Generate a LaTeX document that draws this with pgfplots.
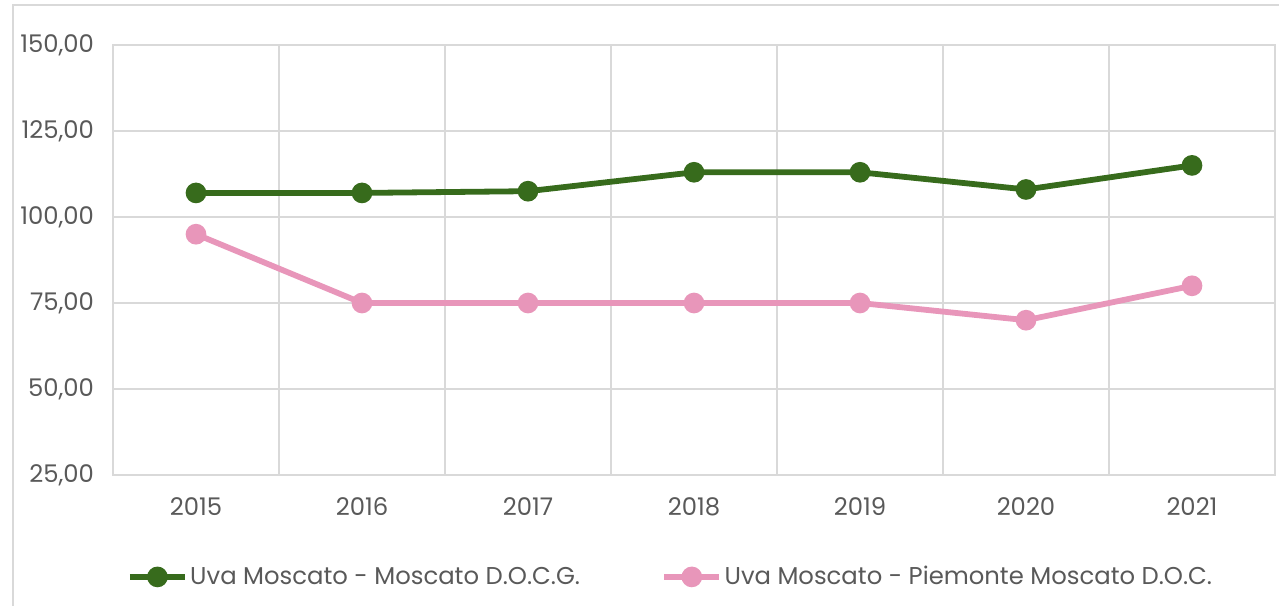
\documentclass[border=0pt]{standalone}
\usepackage{pgfplots}
\pgfplotsset{compat=1.18}
\usepackage{fontspec}
\setmainfont{Poppins}
\definecolor{gridgray}{HTML}{D9D9D9}
\definecolor{txtgray}{HTML}{595959}
\definecolor{dgreen}{HTML}{376B1C}
\definecolor{mpink}{HTML}{E896BA}
\begin{document}
\begin{tikzpicture}[x=1bp,y=1bp]
\useasboundingbox (0,0) rectangle (639.5,302.5);
\draw[gridgray, line width=1bp] (6.5,-2) -- (6.5,300) -- (645,300);
\begin{axis}[
 at={(56.5bp,65bp)}, anchor=south west,
 scale only axis, width=581bp, height=215bp,
 xmin=-0.5, xmax=6.5, ymin=25, ymax=150,
 xtick={0,1,2,3,4,5,6}, xticklabels={2015,2016,2017,2018,2019,2020,2021},
 minor xtick={-0.5,0.5,1.5,2.5,3.5,4.5,5.5,6.5},
 ytick={25,50,75,100,125,150},
 xminorgrids, ymajorgrids,
 grid style={gridgray, line width=1bp},
 minor grid style={gridgray, line width=1bp},
 axis line style={gridgray, line width=1bp},
 major tick length=0, minor tick length=0,
 tick label style={font=\fontsize{12.2}{14}\selectfont, text=txtgray},
 /pgf/number format/assume math mode=true,
 yticklabel style={/pgf/number format/fixed, /pgf/number format/fixed zerofill, /pgf/number format/precision=2, /pgf/number format/use comma, xshift=-6bp},
 xticklabel style={yshift=-8bp},
 legend columns=2,
 legend style={at={(0.48,-0.237)}, anchor=center, draw=none, fill=none, font=\fontsize{12.2}{14}\selectfont, text=txtgray, /tikz/every even column/.append style={column sep=39.5bp}, inner sep=0pt, nodes={inner xsep=1.2bp}},
 legend cell align=left,
 legend image code/.code={\draw[#1, mark repeat=2, mark phase=2] plot coordinates {(0bp,0bp)(13.75bp,0bp)(27.5bp,0bp)};},
]
\addplot[dgreen, line width=2.9bp, mark=*, mark size=3.7bp] coordinates {(0,107)(1,107)(2,107.5)(3,113)(4,113)(5,108)(6,115)};
\addlegendentry{Uva Moscato - Moscato D.O.C.G.}
\addplot[mpink, line width=2.9bp, mark=*, mark size=3.7bp] coordinates {(0,95)(1,75)(2,75)(3,75)(4,75)(5,70)(6,80)};
\addlegendentry{Uva Moscato - Piemonte Moscato D.O.C.}
\end{axis}
\end{tikzpicture}
\end{document}
